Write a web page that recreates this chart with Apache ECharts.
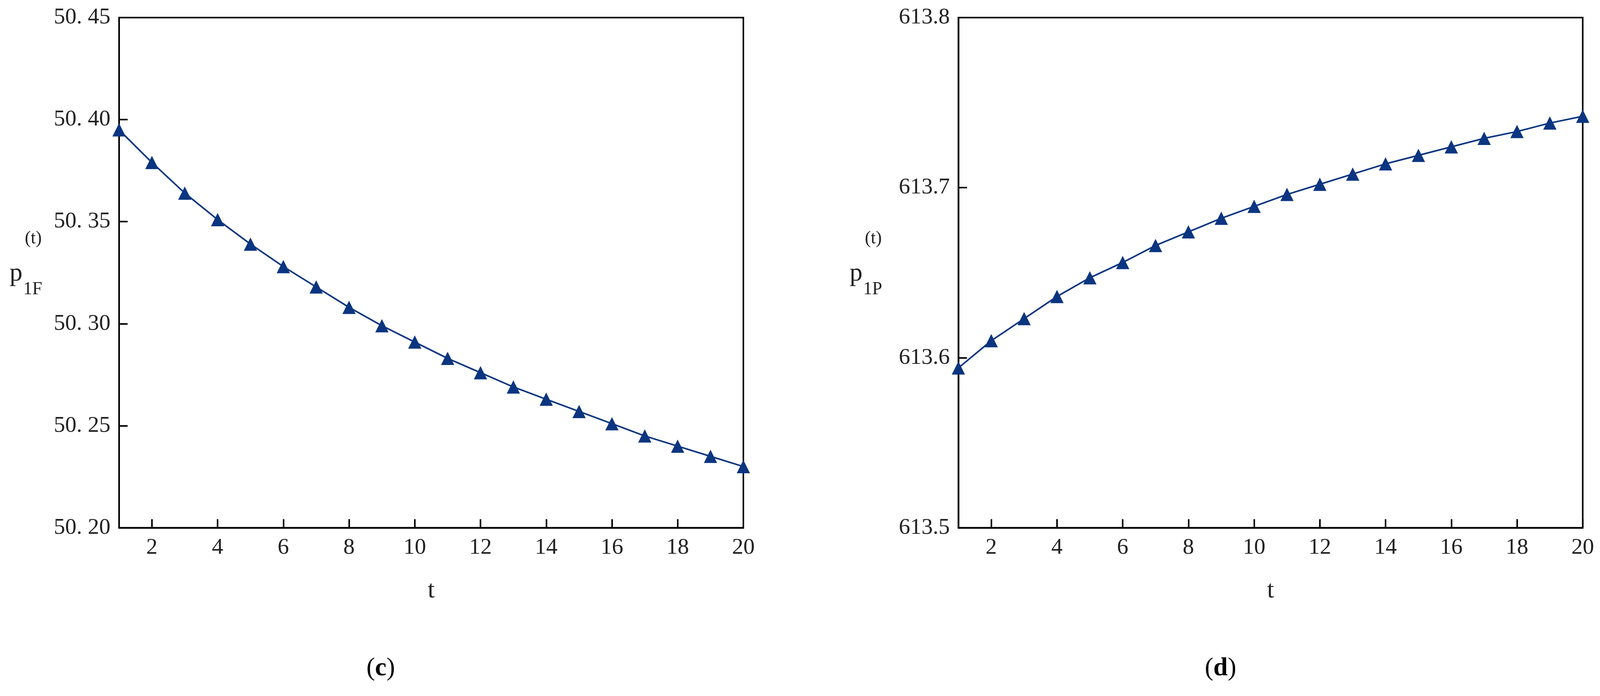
<!DOCTYPE html>
<html>
<head>
<meta charset="utf-8">
<script src="https://cdn.jsdelivr.net/npm/echarts@6/dist/echarts.min.js"></script>
<style>html,body{margin:0;padding:0;background:#fff;overflow:hidden;width:100%;height:100%}#main{width:100%;height:100%}</style>
</head>
<body>
<div id="main"></div>
<script>
var tValues = [1,2,3,4,5,6,7,8,9,10,11,12,13,14,15,16,17,18,19,20];
var xTicks = [2,4,6,8,10,12,14,16,18,20];
var p1F = [50.395,50.379,50.364,50.351,50.339,50.328,50.318,50.308,50.299,50.291,
           50.283,50.276,50.269,50.263,50.257,50.251,50.245,50.240,50.235,50.230];
var p1P = [613.594,613.610,613.623,613.636,613.647,613.656,613.666,613.674,613.682,613.689,
           613.696,613.702,613.708,613.714,613.719,613.724,613.729,613.733,613.738,613.742];

var chart = echarts.init(document.getElementById('main'));
var font = 'Liberation Serif';
var blue = '#0b3580';

function xAx(idx) {
  return {
    type: 'value', gridIndex: idx, min: 1, max: 20,
    name: 't', nameLocation: 'middle', nameGap: 130,
    nameTextStyle: {fontFamily: font, fontSize: 64, color: '#222'},
    axisLine: {lineStyle: {color: '#000', width: 4}},
    axisTick: {inside: true, length: 22, customValues: xTicks, lineStyle: {color: '#000', width: 4}},
    axisLabel: {customValues: xTicks, fontFamily: font, fontSize: 58, color: '#222', margin: 22},
    splitLine: {show: false}
  };
}
function yAx(idx, min, max, step, dec) {
  return {
    type: 'value', gridIndex: idx, min: min, max: max, interval: step,
    axisLine: {show: true, lineStyle: {color: '#000', width: 4}},
    axisTick: {inside: true, length: 22, lineStyle: {color: '#000', width: 4}},
    axisLabel: {fontFamily: font, fontSize: 58, color: '#222', margin: 22,
      formatter: function (v) { return dec === 2 ? v.toFixed(2).replace('.', '. ') : v.toFixed(1); }},
    splitLine: {show: false}
  };
}
function pts(arr) { return tValues.map(function (t, i) { return [t, arr[i]]; }); }
function ser(idx, arr) {
  return {type: 'line', xAxisIndex: idx, yAxisIndex: idx, data: pts(arr),
    symbol: 'triangle', symbolSize: 34, lineStyle: {color: blue, width: 4},
    itemStyle: {color: blue}, animation: false};
}
function lbl(x, sub) {
  return [
    {type: 'text', left: x + '%', top: '37.5%', style: {text: 'p', font: '66px "Liberation Serif"', fill: '#222'}},
    {type: 'text', left: (x + 0.95) + '%', top: '33%', style: {text: '(t)', font: '46px "Liberation Serif"', fill: '#222'}},
    {type: 'text', left: (x + 0.85) + '%', top: '40.3%', style: {text: sub, font: '46px "Liberation Serif"', fill: '#222'}}
  ];
}
function cap(x, letter) {
  return {type: 'text', left: x + '%', top: '94.2%', style: {
    text: '({b|' + letter + '})', font: '66px "Liberation Serif"', fill: '#000',
    rich: {b: {fontFamily: font, fontSize: 66, fontWeight: 'bold'}}}};
}

chart.setOption({
  backgroundColor: '#fff',
  grid: [
    {left: '7.44%', right: '53.54%', top: '2.53%', height: '73.3%', show: true, borderColor: '#000', borderWidth: 4},
    {left: '59.9%', right: '1.08%', top: '2.53%', height: '73.3%', show: true, borderColor: '#000', borderWidth: 4}
  ],
  xAxis: [xAx(0), xAx(1)],
  yAxis: [yAx(0, 50.20, 50.45, 0.05, 2), yAx(1, 613.5, 613.8, 0.1, 1)],
  series: [ser(0, p1F), ser(1, p1P)],
  graphic: lbl(0.6, '1F').concat(lbl(53.1, '1P')).concat([cap(22.9, 'c'), cap(75.3, 'd')])
});
window.addEventListener('resize', function () { chart.resize(); });
</script>
</body>
</html>
